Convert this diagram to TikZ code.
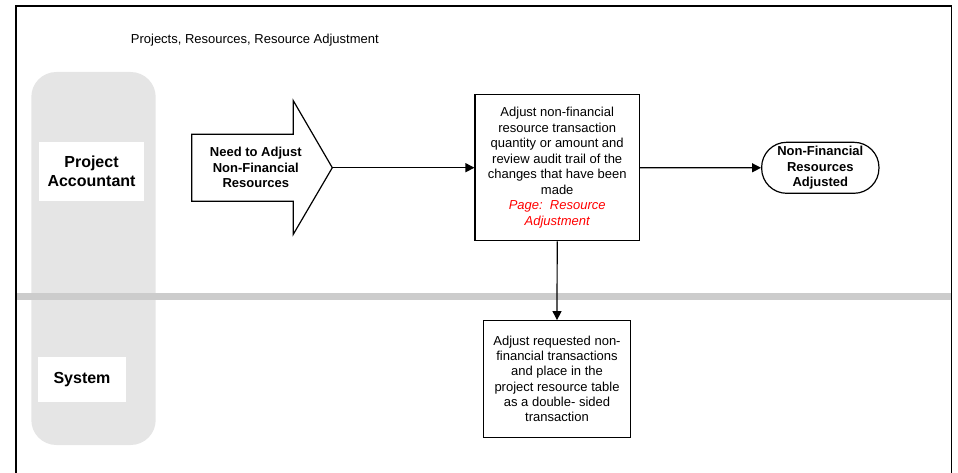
\documentclass[tikz,border=0pt]{standalone}
\usepackage{fontspec}
\setmainfont{Liberation Sans}
\usetikzlibrary{arrows.meta}
\begin{document}
\begin{tikzpicture}[x=1pt,y=-1pt,
  every node/.style={font=\fontsize{13}{15.4}\selectfont},
  box/.style={draw,line width=1.2pt,inner sep=0pt,align=center},
  lanelabel/.style={fill=white,inner sep=0pt,align=center,font=\bfseries\fontsize{16}{18.7}\selectfont},
  flow/.style={line width=1.2pt,-{Triangle[length=9pt,width=9pt]}},
  lane/.style={fill=gray!20,rounded corners=25pt},
  separator/.style={fill=black!20},
  frame/.style={line width=1.5pt},
  startshape/.style={draw,line width=1.2pt,fill=white},
  redtext/.style={}
]
\useasboundingbox (0,0) rectangle (958,473);
% lane column
\path[lane] (31.3,72) rectangle (155.7,445);
% separator
\path[separator] (16,292.5) rectangle (951.7,299.5);
% frame
\draw[frame] (16,473) -- (16,6) -- (951.7,6) -- (951.7,473);
% lane labels
\node[lanelabel,minimum width=105pt,minimum height=58.4pt] (pa) at (91.5,171.5) {Project\\Accountant};
\node[lanelabel,minimum width=88pt,minimum height=44.7pt] (sys) at (82,379.3) {System};
% title
\node[anchor=west,inner sep=0pt] (title) at (130.7,40) {Projects, Resources, Resource Adjustment};
% start arrow
\draw[startshape] (191.7,134.3) -- (293.3,134.3) -- (293.3,100.7) -- (332.3,167.7) -- (293.3,234.3) -- (293.3,201.3) -- (191.7,201.3) -- cycle;
\coordinate (starttip) at (332.3,167.7);
\node[align=center,inner sep=0pt,font=\bfseries\fontsize{13}{15.2}\selectfont] (start) at (255.8,167.5) {Need to Adjust\\Non-Financial\\Resources};
% process box
\node[box,minimum width=164.3pt,minimum height=146pt,font=\fontsize{13}{15.5}\selectfont] (adjust) at (557.2,167.7) {Adjust non-financial\\resource transaction\\quantity or amount and\\review audit trail of the\\changes that have been\\made\\\textcolor{red}{\itshape Page:\ \ Resource}\\\textcolor{red}{\itshape Adjustment}};
% terminator
\node[box,rounded corners=25pt,minimum width=117.3pt,minimum height=51pt,font=\bfseries\fontsize{13}{15.3}\selectfont] (done) at (820.3,167.8) {Non-Financial\\Resources\\Adjusted};
% system box
\node[box,minimum width=147.4pt,minimum height=116.6pt,font=\fontsize{13}{15.3}\selectfont] (sysbox) at (557,379) {Adjust requested non-\\financial transactions\\and place in the\\project resource table\\as a double- sided\\transaction};
% connectors
\draw[flow] (starttip) -- (adjust.west);
\draw[flow] (adjust.east) -- (done.west);
\draw[flow] (adjust.south) -- (sysbox.north);
\end{tikzpicture}
\end{document}
